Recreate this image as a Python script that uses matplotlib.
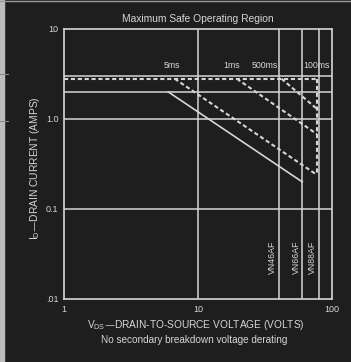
import numpy as np
import matplotlib
matplotlib.use("Agg")
import matplotlib.pyplot as plt
from matplotlib.lines import Line2D

# =========================================
# DATA
# =========================================
# tegangan breakdown tiap tipe (garis vertikal)
device_names = ["VN46AF", "VN66AF", "VN88AF"]
device_bvdss = [40, 60, 80]

# batas arus pulsa (horizontal putus-putus) dan tegangan maksimum pulsa
pulse_current = 2.8
pulse_v_max = 77
grid_currents = [3.0, 2.0, 1.0, 0.1]
grid_voltages = [10]

# garis daya konstan pulsa: (V awal, I akhir pada pulse_v_max)
pulse_labels = ["5ms", "1ms", "500ms", "100ms"]
pulse_label_v = [6.4, 17.9, 31.6, 76]
pulse_v_start = [6.7, 19.5, 42.0]
pulse_i_end = [0.24, 0.68, 1.3]

# garis DC (solid)
dc_v = [6.0, 60]
dc_i = [2.0, 0.2]

y_ticks = [0.01, 0.1, 1.0, 10]
y_ticklabels = [".01", "0.1", "1.0", "10"]
x_ticks = [1, 10, 100]
x_ticklabels = ["1", "10", "100"]

BG = "#1f1e1e"
FG = "#d6d6d6"
FONT = "Liberation Sans"

# =========================================
# FIGURE
# =========================================
fig = plt.figure(figsize=(3.51, 3.62), dpi=100, facecolor=BG)
ax = fig.add_axes([64 / 351, 63 / 362, 268 / 351, 270 / 362], facecolor=BG)
ax.set_xscale("log")
ax.set_yscale("log")
ax.set_xlim(1, 100)
ax.set_ylim(0.01, 10)

for s in ax.spines.values():
    s.set_color(FG)
    s.set_linewidth(1.2)

# grid
for v in grid_voltages + device_bvdss:
    ax.axvline(v, color=FG, lw=1.1)
for c in grid_currents:
    ax.axhline(c, color=FG, lw=1.1)

# batas pulsa
dash = dict(color=FG, lw=1.5, dashes=(2.0, 1.3))
ax.plot([1, pulse_v_max], [pulse_current, pulse_current], **dash)
ax.plot([pulse_v_max, pulse_v_max], [pulse_current, pulse_i_end[0]], **dash)
for vs, ie in zip(pulse_v_start, pulse_i_end):
    ax.plot([vs, pulse_v_max], [pulse_current, ie], **dash)

# DC
ax.plot(dc_v, dc_i, color=FG, lw=1.2)

# label durasi pulsa
for lab, x in zip(pulse_labels, pulse_label_v):
    ax.text(x, 3.9, lab, color=FG, fontsize=6.3, family=FONT, ha="center", va="center")

# nama device (vertikal)
device_label_x = [36, 54, 71]
for name, x in zip(device_names, device_label_x):
    ax.text(x, 0.029, name, color=FG, fontsize=6.3, family=FONT, rotation=90,
            ha="center", va="center")

ax.set_xticks(x_ticks)
ax.set_xticklabels(x_ticklabels)
ax.set_yticks(y_ticks)
ax.set_yticklabels(y_ticklabels)
ax.minorticks_off()
ax.tick_params(length=0, colors=FG, labelsize=6.5, pad=4)
for t in ax.get_xticklabels() + ax.get_yticklabels():
    t.set_family(FONT)

# =========================================
# TEKS
# =========================================
fig.text(198 / 351, 1 - 19 / 362, "Maximum Safe Operating Region", color=FG,
         fontsize=7.4, family=FONT, ha="center", va="center")
fig.text(196 / 351, 1 - 325 / 362,
         r"V$_\mathregular{DS}$—DRAIN-TO-SOURCE VOLTAGE (VOLTS)", color=FG,
         fontsize=7.3, family=FONT, ha="center", va="center")
fig.text(194 / 351, 1 - 340 / 362, "No secondary breakdown voltage derating",
         color=FG, fontsize=7.2, family=FONT, ha="center", va="center")
fig.text(35 / 351, 1 - 168 / 362, r"I$_\mathregular{D}$—DRAIN CURRENT (AMPS)",
         color=FG, fontsize=7.4, family=FONT, rotation=90, ha="center", va="center")

# tepi kiri kertas
fig.patches.append(plt.Rectangle((0, 0), 3.5 / 351, 1, transform=fig.transFigure,
                                 color="#bdbdbd", zorder=0))
fig.lines.append(Line2D([0, 1], [1 - 0.5 / 362] * 2, transform=fig.transFigure,
                        color="#9a9a9a", lw=1))
for yy in [74, 121]:
    fig.lines.append(Line2D([0, 8 / 351], [1 - yy / 362] * 2,
                            transform=fig.transFigure, color="#8a8a8a", lw=0.8))

fig.savefig("out.png", dpi=100, facecolor=BG)
